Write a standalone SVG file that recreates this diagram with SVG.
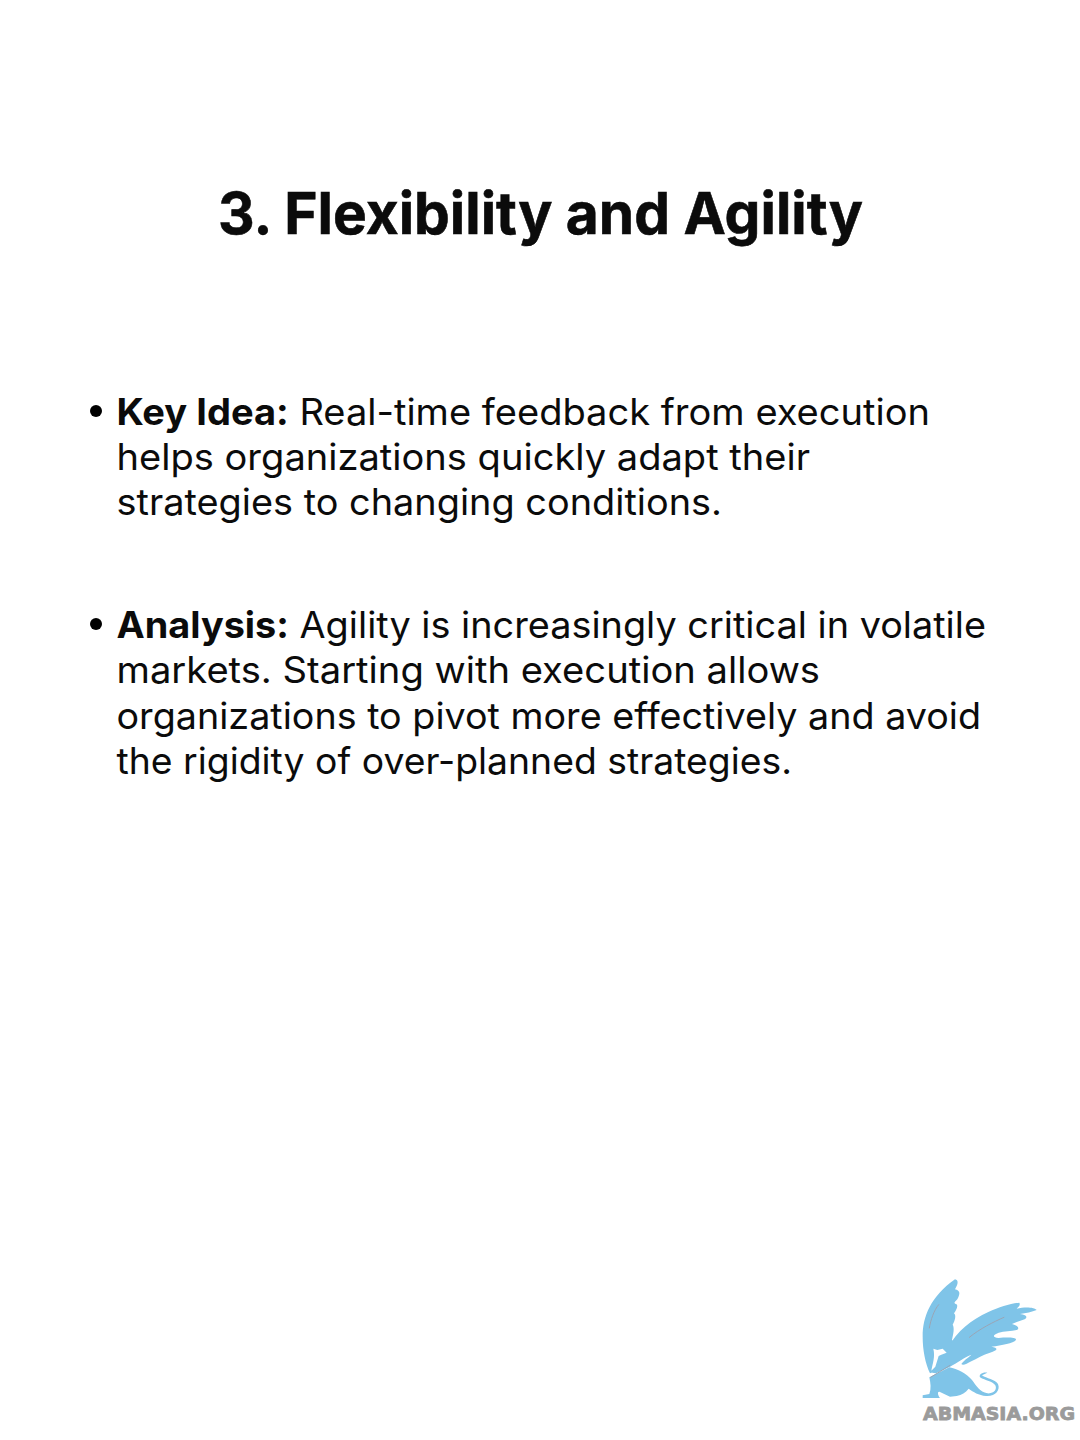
<svg xmlns="http://www.w3.org/2000/svg" width="1080" height="1440" viewBox="0 0 1080 1440">
<style>
text{font-family:Inter,"Liberation Sans",sans-serif;fill:#0b0b0b}
.t{font-size:58px;font-weight:700}
.b{font-size:37px}
.k{font-weight:700}
.l{fill:#7fc4e8}
.g{fill:none;stroke:#9aa5b5;stroke-width:3;stroke-linecap:round}
</style>
<rect width="1080" height="1440" fill="#fff"/>
<g id="title"><text class="t" x="218" y="234" textLength="645" lengthAdjust="spacingAndGlyphs" stroke="#0b0b0b" stroke-width=".6">3. Flexibility and Agility</text></g>
<g id="point-1">
<circle cx="96" cy="411" r="6"/>
<text class="b" x="116.5" y="425" textLength="813.5" lengthAdjust="spacingAndGlyphs"><tspan class="k">Key Idea:</tspan> Real-time feedback from execution</text>
<text class="b" x="116.5" y="470" textLength="693.5" lengthAdjust="spacingAndGlyphs">helps organizations quickly adapt their</text>
<text class="b" x="116.5" y="515" textLength="605.5" lengthAdjust="spacingAndGlyphs">strategies to changing conditions.</text>
</g>
<g id="point-2">
<circle cx="96" cy="624" r="6"/>
<text class="b" x="116.5" y="638" textLength="869.5" lengthAdjust="spacingAndGlyphs"><tspan class="k">Analysis:</tspan> Agility is increasingly critical in volatile</text>
<text class="b" x="116.5" y="683" textLength="703.5" lengthAdjust="spacingAndGlyphs">markets. Starting with execution allows</text>
<text class="b" x="116.5" y="729" textLength="864.5" lengthAdjust="spacingAndGlyphs">organizations to pivot more effectively and avoid</text>
<text class="b" x="116.5" y="774" textLength="675.5" lengthAdjust="spacingAndGlyphs">the rigidity of over-planned strategies.</text>
</g>
<g id="logo">
<g transform="translate(900 1260) scale(.3333)">
<path class="l" d="M165 58C176 60 175 72 165 88C180 92 182 100 172 118C164 126 160 130 168 132C176 134 170 150 162 160C170 166 164 184 158 194C164 204 160 222 156 240L166 250L170 290L130 326L90 340C76 310 68 270 68 230C68 170 92 110 165 58Z"/>
<path class="l" d="M358 128C362 136 356 140 350 146C376 140 404 142 410 150C396 156 378 160 360 162C380 164 384 172 374 178C362 182 348 186 336 192C354 196 360 206 350 210C334 214 312 214 296 218C276 226 278 232 296 234C322 232 350 232 348 240C340 250 306 256 274 260C298 264 292 272 270 278C250 284 230 296 214 304C200 312 188 318 184 312C196 296 210 290 214 284C196 290 170 310 150 320L108 340L96 338C122 312 132 290 146 260C170 215 215 178 265 156C298 142 330 130 358 128Z"/>
<path class="l" d="M88 352L148 322C172 326 200 342 216 360C228 376 240 396 262 400C282 402 292 388 286 376C278 364 256 362 240 352C236 344 246 336 262 338L246 346C260 356 284 358 294 372C302 390 286 410 258 408C236 406 220 396 206 386C196 398 186 404 170 408L150 410L120 396C112 392 112 404 120 414L68 414L68 406L88 402C94 386 92 370 88 352Z"/>
<path d="M100 266L112 270L128 266L140 278L124 284L116 288L106 320L94 332C98 310 106 290 100 266Z" fill="#fff"/>
<path class="g" d="M88 204C92 180 102 150 116 134"/>
<path class="g" d="M208 232C240 206 280 186 312 172"/>
<path class="g" d="M92 352L150 316"/>
</g>
<text x="923" y="1420" textLength="152" lengthAdjust="spacingAndGlyphs" stroke="#9b9b9b" stroke-width=".8" style="font-family:'DejaVu Sans',sans-serif;font-weight:700;font-size:18px;fill:#9b9b9b">ABMASIA.ORG</text>
</g>
</svg>
